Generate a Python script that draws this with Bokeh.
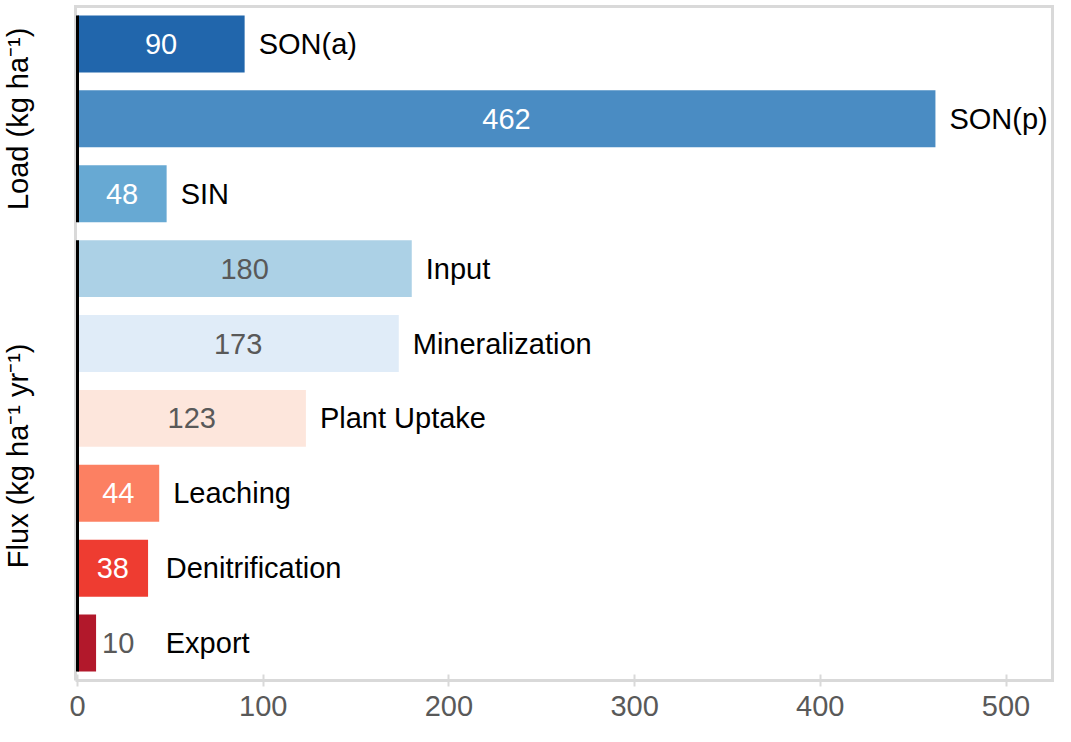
import math
from bokeh.plotting import figure
from bokeh.models import ColumnDataSource, FactorRange, Range1d, FixedTicker
from bokeh.embed import file_html
from bokeh.resources import INLINE
from bokeh.core.properties import value

# ---- data ----
categories = ["SON(a)", "SON(p)", "SIN", "Input", "Mineralization",
              "Plant Uptake", "Leaching", "Denitrification", "Export"]
values = [90, 462, 48, 180, 173, 123, 44, 38, 10]
groups = ["Load", "Load", "Load", "Flux", "Flux", "Flux", "Flux", "Flux", "Flux"]
group_titles = {"Load": "Load (kg ha⁻¹)", "Flux": "Flux (kg ha⁻¹ yr⁻¹)"}
bar_colors = ["#2166ac", "#4a8cc3", "#67a9d3", "#acd1e6", "#e0ecf8",
              "#fde6dc", "#fc8062", "#ee3c31", "#b2182b"]
value_colors = ["white", "white", "white", "#595959", "#595959",
                "#595959", "white", "white", "#595959"]
x_ticks = [0, 100, 200, 300, 400, 500]

FONT = "Liberation Sans"
FS = "29px"
BAR_H = 0.76
GRAY = "#d9d9d9"

W, H = 1055, 726
X0_PX = 77          # pixel of x = 0
SCALE = 1.857       # pixels per unit
FRAME_LEFT_PX, FRAME_RIGHT_PX = 75, 1052

order = list(reversed(categories))  # top to bottom display
pos = {c: order.index(c) + 0.5 for c in categories}

x_start = -X0_PX / SCALE
x_end = (W - X0_PX) / SCALE

p = figure(width=W, height=H,
           y_range=FactorRange(factors=order, range_padding=0.08,
                               range_padding_units="absolute"),
           x_range=Range1d(x_start, x_end),
           output_backend="svg", toolbar_location=None,
           min_border_left=0, min_border_right=0, min_border_top=0,
           min_border_bottom=40)
p.background_fill_color = "white"
p.border_fill_color = "white"
p.outline_line_color = None
p.xgrid.visible = False
p.ygrid.visible = False
p.yaxis.visible = False

p.xaxis.ticker = FixedTicker(ticks=x_ticks)
p.xaxis.axis_line_color = None
p.xaxis.major_tick_line_color = GRAY
p.xaxis.major_tick_line_width = 2
p.xaxis.major_tick_in = 12
p.xaxis.major_tick_out = 0
p.xaxis.minor_tick_line_color = None
p.xaxis.major_label_text_font = FONT
p.xaxis.major_label_text_font_size = FS
p.xaxis.major_label_text_color = "#595959"
p.xaxis.major_label_standoff = 9

# gray frame around the bar area
fl = (FRAME_LEFT_PX - X0_PX) / SCALE
fr = (FRAME_RIGHT_PX - X0_PX) / SCALE
n = len(categories)
p.line(x=[fl, fr, fr, fl, fl], y=[0, 0, n, n, 0], line_color=GRAY,
       line_width=3, line_join="miter")

src = ColumnDataSource(dict(cat=categories, val=values, color=bar_colors))
p.hbar(y="cat", left=0, right="val", height=BAR_H, fill_color="color",
       line_color=None, source=src)

# value labels
inside = [i for i, v in enumerate(values) if v >= 20]
outside = [i for i, v in enumerate(values) if v < 20]
src_in = ColumnDataSource(dict(
    cat=[categories[i] for i in inside],
    x=[values[i] / 2 for i in inside],
    txt=[str(values[i]) for i in inside],
    col=[value_colors[i] for i in inside]))
p.text(x="x", y="cat", text="txt", text_color="col", source=src_in,
       text_align="center", text_baseline="middle",
       text_font=value(FONT), text_font_size=FS)
src_out = ColumnDataSource(dict(
    cat=[categories[i] for i in outside],
    x=[values[i] for i in outside],
    txt=[str(values[i]) for i in outside],
    col=[value_colors[i] for i in outside]))
p.text(x="x", y="cat", text="txt", text_color="col", source=src_out,
       text_align="left", text_baseline="middle", x_offset=6,
       text_font=value(FONT), text_font_size=FS)

# category names
src_nm = ColumnDataSource(dict(cat=categories, x=[max(v, 40) for v in values],
                               txt=categories))
p.text(x="x", y="cat", text="txt", text_color="black", source=src_nm,
       text_align="left", text_baseline="middle", x_offset=14,
       text_font=value(FONT), text_font_size=FS)

# group bars on the left edge and group titles
label_x = (17 - X0_PX) / SCALE
for g in ["Load", "Flux"]:
    members = [c for c, gg in zip(categories, groups) if gg == g]
    ys = [pos[c] for c in members]
    p.segment(x0=[0], x1=[0], y0=[min(ys) - BAR_H / 2], y1=[max(ys) + BAR_H / 2],
              line_color="black", line_width=3)
    p.text(x=[label_x], y=[sum(ys) / len(ys)], text=[group_titles[g]],
           angle=math.pi / 2, text_align="center", text_baseline="middle",
           text_font=value(FONT), text_font_size=FS, text_color="black")

open("out.html", "w").write(file_html(p, INLINE))
